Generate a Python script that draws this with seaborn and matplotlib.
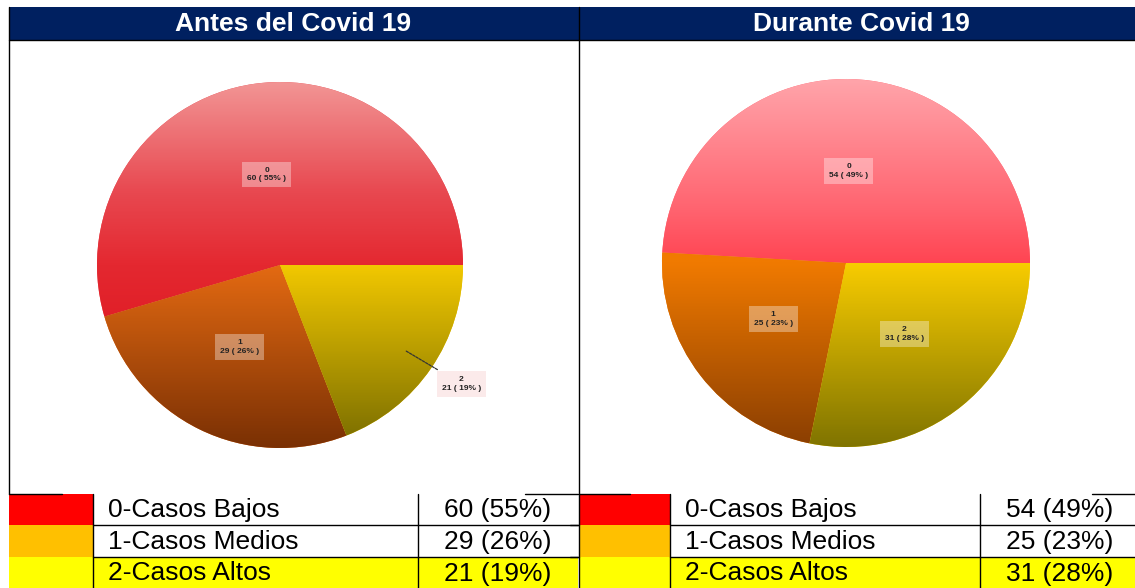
import numpy as np
import matplotlib
matplotlib.use("Agg")
import matplotlib.pyplot as plt
from matplotlib.colors import LinearSegmentedColormap
from matplotlib.patches import Rectangle
import seaborn as sns

# ---------------- data ----------------
panel_titles = ["Antes del Covid 19", "Durante Covid 19"]
codes = ["0", "1", "2"]
categories = ["0-Casos Bajos", "1-Casos Medios", "2-Casos Altos"]
antes_values = [60, 29, 21]
antes_pct = [55, 26, 19]
durante_values = [54, 25, 31]
durante_pct = [49, 23, 28]
swatch_colors = ["#FF0000", "#FFC000", "#FFFF00"]

# gradient stops (position from top of pie, colour) per slice
antes_grad = [[(0, "#F29494"), (0.3, "#E84850"), (0.5, "#E42830"), (1, "#D80A14")],
              [(0, "#E46A12"), (0.5, "#E46A12"), (1, "#7A3004")],
              [(0, "#F2C800"), (0.5, "#F2C800"), (1, "#786C00")]]
durante_grad = [[(0, "#FFA4AA"), (0.35, "#FF6470"), (0.5, "#FF4452"), (1, "#F02030")],
                [(0, "#F07A00"), (0.5, "#F07A00"), (1, "#8A3E02")],
                [(0, "#F8CC00"), (0.5, "#F8CC00"), (1, "#807400")]]

sns.set_theme(style="white")
plt.rcParams["font.family"] = ["Liberation Sans", "DejaVu Sans"]

W, H = 1135, 588
fig = plt.figure(figsize=(W / 100, H / 100), dpi=100)
fig.patch.set_facecolor("white")

# ---------------- overlay (table frame) ----------------
ov = fig.add_axes([0, 0, 1, 1])
ov.set_xlim(0, W)
ov.set_ylim(H, 0)
ov.axis("off")

navy = "#002060"
ov.add_patch(Rectangle((9, 7), W - 9, 33, facecolor=navy, edgecolor="none"))
title_x = [293.5, 861]
for tx, t in zip(title_x, panel_titles):
    ov.text(tx, 24, t, color="white", fontsize=19, fontweight="bold",
            ha="center", va="center")

lw = 1.0
k = "black"
ov.plot([9, W], [40, 40], color=k, lw=lw)
ov.plot([9, 9], [7, 494], color=k, lw=lw)
ov.plot([578.5, 578.5], [7, H], color=k, lw=lw)

panels = [
    dict(x0=9, xs=93, xv=418, xr=578, vc=498, tx=108, segs=[(9, 62), (525, 578)]),
    dict(x0=579, xs=670, xv=980, xr=W, vc=1060, tx=685, segs=[(579, 630), (1092, W)]),
]
row_tops = [494, 525, 557]
row_bots = [525, 557, H]
all_vals = [antes_values, durante_values]
all_pct = [antes_pct, durante_pct]

for p, vals, pcts in zip(panels, all_vals, all_pct):
    ov.add_patch(Rectangle((p["x0"], row_tops[2]), p["xr"] - p["x0"], row_bots[2] - row_tops[2],
                           facecolor=swatch_colors[2], edgecolor="none"))
    for i in range(3):
        ov.add_patch(Rectangle((p["x0"], row_tops[i]), p["xs"] - p["x0"], row_bots[i] - row_tops[i],
                               facecolor=swatch_colors[i], edgecolor="none"))
        cy = (row_tops[i] + row_bots[i]) / 2 + 1
        ov.text(p["tx"], cy, categories[i], fontsize=19, color="black", ha="left", va="center")
        ov.text(p["vc"], cy, f"{vals[i]} ({pcts[i]}%)", fontsize=19, color="black",
                ha="center", va="center")
    for a, b in p["segs"]:
        ov.plot([a, b], [493.5, 493.5], color=k, lw=lw)
    for y in [525, 557]:
        ov.plot([p["xs"], p["xr"]], [y, y], color=k, lw=lw)
    ov.plot([p["xs"], p["xs"]], [494, H], color=k, lw=lw)
    ov.plot([p["xv"], p["xv"]], [494, H], color=k, lw=lw)
for y in [525, 557]:
    ov.plot([570, 579], [y, y], color=k, lw=lw)

# ---------------- pies ----------------
pie_geo = [(280, 265, 183), (846, 263, 184)]
grads = [antes_grad, durante_grad]
outer = [[False, False, True], [False, False, False]]

for (cx, cy, r), vals, pcts, gr, out in zip(pie_geo, all_vals, all_pct, grads, outer):
    ax = fig.add_axes([(cx - r) / W, (H - cy - r) / H, 2 * r / W, 2 * r / H])
    ax.set_facecolor("none")
    wedges, _ = ax.pie(vals, startangle=0, counterclock=True,
                       colors=[g[1][1] for g in gr],
                       wedgeprops=dict(edgecolor="none", linewidth=0))
    for w, g in zip(wedges, gr):
        cmap = LinearSegmentedColormap.from_list("g", g)
        im = ax.imshow(np.linspace(0, 1, 400).reshape(-1, 1) * np.ones((1, 2)),
                       extent=(-1, 1, -1, 1), cmap=cmap, vmin=0, vmax=1,
                       aspect="auto", origin="upper", zorder=2, interpolation="bilinear")
        im.set_clip_path(w)
    for w, c, v, pc, o in zip(wedges, codes, vals, pcts, out):
        ang = np.deg2rad((w.theta1 + w.theta2) / 2)
        txt = f"{c}\n{v} ( {pc}% )"
        if o:
            ax.annotate(txt, xy=(0.82 * np.cos(ang), 0.82 * np.sin(ang)),
                        xytext=(1.2 * np.cos(ang), 1.15 * np.sin(ang)),
                        ha="center", va="center", fontsize=6, fontweight="bold",
                        color="#222222", linespacing=1.3, zorder=5,
                        bbox=dict(boxstyle="square,pad=0.6", facecolor="#FBEAEA",
                                  edgecolor="none"),
                        arrowprops=dict(arrowstyle="-", color="#333333", lw=0.9,
                                        linestyle=(0, (2, 1))),
                        annotation_clip=False)
        else:
            ax.text(0.5 * np.cos(ang), 0.5 * np.sin(ang), txt, ha="center", va="center",
                    fontsize=6, fontweight="bold", color="#222222", linespacing=1.3,
                    zorder=5,
                    bbox=dict(boxstyle="square,pad=0.6", facecolor="white", alpha=0.35,
                              edgecolor="none"))
    ax.set_xlim(-1, 1)
    ax.set_ylim(-1, 1)
    ax.axis("off")

fig.savefig("out.png", dpi=100, facecolor="white")
